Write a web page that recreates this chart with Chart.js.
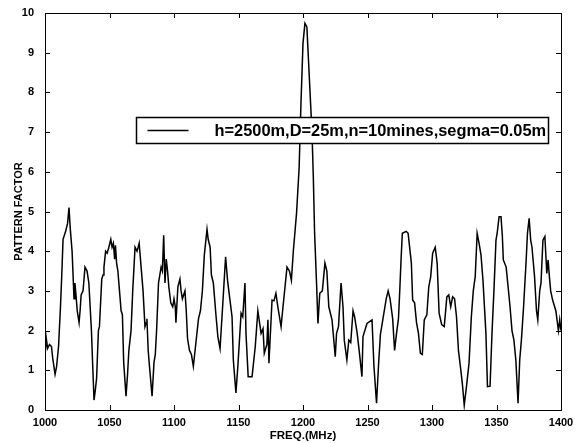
<!DOCTYPE html>
<html>
<head>
<meta charset="utf-8">
<script src="https://cdn.jsdelivr.net/npm/chart.js@4/dist/chart.umd.min.js"></script>
<style>
  html, body { margin: 0; padding: 0; background: #fff; }
  #wrap { width: 584px; height: 443px; position: relative; }
</style>
</head>
<body>
<div id="wrap"><canvas id="pf"></canvas></div>
<script>
// frequency (MHz) and pattern factor
var freq = [
  1000, 1001, 1002, 1003.5, 1005, 1006, 1007.8, 1009, 1010.5, 1012, 1013, 1014, 1016, 1017.5, 1018.6, 1019.5,
  1021, 1022.5, 1023.2, 1024, 1025, 1026.4, 1027.2, 1028, 1029.5, 1031, 1032.6, 1034, 1035, 1036, 1037, 1038,
  1039, 1040, 1041.4, 1042.2, 1044, 1045, 1045.7, 1047, 1048.2, 1049.5, 1051, 1052, 1053, 1054, 1054.6, 1055.5,
  1056.5, 1058, 1059, 1060, 1061, 1062.8, 1064, 1065, 1066.7, 1068, 1069.8, 1071.3, 1072.2, 1073, 1074, 1076,
  1077.5, 1078.5, 1079, 1080, 1081, 1083, 1084.5, 1085.5, 1086.5, 1088, 1090, 1091, 1092, 1093, 1094, 1095,
  1096, 1097.5, 1099, 1100, 1101, 1101.5, 1103, 1104.6, 1105.5, 1106.5, 1108.5, 1109.5, 1110.5, 1112, 1113.5, 1115,
  1117, 1119, 1120.5, 1122, 1123.5, 1125.6, 1126.5, 1128, 1129, 1130.5, 1132.5, 1134, 1135.7, 1138, 1140, 1141.5,
  1142.5, 1145, 1146, 1148, 1149.5, 1152, 1153.3, 1155, 1155.8, 1157.5, 1160.5, 1163, 1165, 1167.5, 1169, 1170,
  1172, 1172.8, 1173.6, 1176, 1177.5, 1179, 1180.5, 1183, 1184.5, 1187.6, 1189.5, 1191, 1192.5, 1195, 1197, 1198.5,
  1200, 1201.5, 1203, 1204.5, 1207, 1208, 1209, 1210.5, 1211.6, 1213, 1215, 1217, 1218.5, 1220, 1222.5, 1225,
  1226, 1227.5, 1229.5, 1231, 1232, 1234, 1235.5, 1237, 1238.8, 1240, 1242, 1243.5, 1245.7, 1246.5, 1249.6, 1253.5,
  1255, 1257, 1258.5, 1260, 1262, 1264.5, 1266, 1267.5, 1269.5, 1271, 1272.5, 1274, 1275, 1276, 1277, 1280,
  1281.5, 1284, 1285, 1286.5, 1288, 1289.5, 1291, 1292.5, 1294, 1296, 1297.5, 1299, 1300.5, 1302.5, 1304, 1305.5,
  1307.5, 1309.5, 1311.5, 1313, 1314.5, 1316, 1317.5, 1319, 1320.5, 1322, 1323.5, 1325, 1327, 1328.7, 1330.5, 1332,
  1333.5, 1335, 1336.5, 1338, 1339.5, 1341.8, 1343, 1345, 1346.5, 1348, 1349.6, 1350.5, 1352, 1353.5, 1354.5, 1355.3,
  1357.5, 1359, 1360.5, 1362, 1363.5, 1365, 1366.7, 1368, 1369.3, 1371, 1373, 1374, 1375.3, 1376.5, 1377.5, 1379.5,
  1381, 1382, 1383.5, 1384.5, 1386, 1387.5, 1389, 1390, 1391, 1392, 1393.5, 1396, 1398, 1399, 1400
];
var pattern = [
  1.35, 1.8, 1.55, 1.65, 1.6, 1.3, 0.9, 1.1, 1.6, 2.6, 3.4, 4.3, 4.5, 4.7, 5.1, 4.6,
  4.0, 2.8, 3.2, 2.9, 2.5, 2.2, 2.5, 2.9, 3.0, 3.6, 3.5, 3.2, 2.6, 2.0, 1.1, 0.25,
  0.5, 0.8, 2.0, 2.1, 3.3, 3.4, 3.6, 4.0, 3.95, 4.1, 4.3, 4.1, 4.2, 3.8, 4.15, 3.7,
  3.5, 2.9, 2.5, 2.4, 1.2, 0.35, 0.9, 1.5, 2.0, 3.0, 4.1, 4.0, 4.1, 4.2, 3.8, 3.0,
  2.1, 2.2, 2.3, 1.5, 1.1, 0.35, 1.2, 1.4, 2.0, 3.2, 3.6, 3.5, 4.4, 3.2, 3.8, 3.5,
  3.1, 2.7, 2.6, 2.8, 2.6, 2.2, 3.1, 3.3, 3.0, 2.8, 3.0, 2.5, 1.8, 1.5, 1.4, 1.1,
  1.7, 2.3, 2.5, 3.0, 3.9, 4.55, 4.3, 4.1, 3.4, 3.2, 2.4, 1.85, 1.55, 2.77, 3.86, 3.27,
  3.0, 2.35, 1.26, 0.43, 1.1, 2.44, 2.35, 3.2, 1.93, 0.84, 0.84, 1.6, 2.5, 1.93, 2.05, 1.43,
  1.65, 2.27, 1.18, 2.77, 2.75, 2.94, 2.6, 2.1, 2.6, 3.6, 3.5, 3.27, 4.0, 4.96, 6.1, 7.8,
  9.24, 9.74, 9.65, 8.65, 6.97, 5.87, 4.45, 3.2, 2.18, 2.94, 3.0, 3.7, 3.5, 2.6, 2.27, 1.34,
  1.93, 2.1, 3.2, 2.6, 1.76, 1.26, 1.76, 1.7, 2.5, 2.35, 1.93, 1.51, 0.84, 1.85, 2.18, 2.27,
  1.1, 0.17, 1.1, 1.9, 2.3, 2.8, 3.0, 2.8, 2.3, 1.5, 1.93, 2.3, 3.0, 3.78, 4.45, 4.5,
  4.45, 3.7, 2.77, 2.7, 2.2, 1.93, 1.43, 1.4, 2.27, 2.4, 3.1, 3.36, 3.95, 4.1, 3.7, 2.44,
  2.15, 2.1, 2.85, 2.9, 2.6, 2.85, 2.8, 2.35, 1.5, 1.1, 0.67, 0.12, 0.67, 1.18, 2.35, 3.0,
  3.36, 4.45, 4.2, 3.9, 3.27, 1.93, 0.59, 0.6, 1.93, 3.0, 4.28, 4.45, 4.87, 4.87, 4.4, 3.78,
  3.6, 3.1, 2.6, 2.0, 1.76, 1.26, 0.17, 1.26, 1.76, 2.6, 3.78, 4.45, 4.83, 4.28, 4.1, 3.36,
  2.5, 2.27, 3.0, 3.2, 4.28, 4.37, 3.44, 3.78, 3.36, 3.0, 2.77, 2.5, 2.0, 2.27, 2.0
];
var xTicks = [1000, 1050, 1100, 1150, 1200, 1250, 1300, 1350, 1400];
var yTicks = [0, 1, 2, 3, 4, 5, 6, 7, 8, 9, 10];
var seriesLabel = 'h=2500m,D=25m,n=10mines,segma=0.05m';

var points = freq.map(function (f, i) { return { x: f, y: pattern[i] }; });
var tickFont = { family: 'Liberation Sans, Arial, sans-serif', size: 11, weight: 'bold' };

// box round the plot area, inward ticks on all four sides, legend box inside
var matlabFrame = {
  id: 'matlabFrame',
  afterDraw: function (chart) {
    var ctx = chart.ctx, a = chart.chartArea;
    var xs = chart.scales.x, ys = chart.scales.y;
    ctx.save();
    ctx.strokeStyle = '#000';
    ctx.lineWidth = 1;
    ctx.strokeRect(a.left + 0.5, a.top + 0.5, a.right - a.left, a.bottom - a.top);
    ctx.beginPath();
    xTicks.forEach(function (v) {
      var px = Math.round(xs.getPixelForValue(v)) + 0.5;
      ctx.moveTo(px, a.bottom); ctx.lineTo(px, a.bottom - 5);
      ctx.moveTo(px, a.top); ctx.lineTo(px, a.top + 5);
    });
    yTicks.forEach(function (v) {
      var py = Math.round(ys.getPixelForValue(v)) + 0.5;
      ctx.moveTo(a.left, py); ctx.lineTo(a.left + 5, py);
      ctx.moveTo(a.right, py); ctx.lineTo(a.right - 5, py);
    });
    ctx.stroke();

    // legend
    var bx = 136.5, by = 117.5, bw = 412, bh = 26;
    ctx.fillStyle = '#fff';
    ctx.fillRect(bx, by, bw, bh);
    ctx.lineWidth = 1.5;
    ctx.strokeRect(bx, by, bw, bh);
    ctx.beginPath();
    ctx.lineWidth = 1.5;
    ctx.moveTo(bx + 11, by + 13); ctx.lineTo(bx + 52, by + 13);
    ctx.stroke();
    ctx.fillStyle = '#000';
    ctx.font = 'bold 16.4px "Liberation Sans", Arial, sans-serif';
    ctx.textBaseline = 'middle';
    ctx.textAlign = 'left';
    ctx.fillText(seriesLabel, bx + 78, by + 14);
    ctx.restore();
  }
};

new Chart(document.getElementById('pf'), {
  type: 'line',
  data: {
    datasets: [{
      label: seriesLabel,
      data: points,
      borderColor: '#000',
      borderWidth: 1.5,
      pointRadius: 0,
      tension: 0,
      fill: false
    }]
  },
  options: {
    responsive: true,
    maintainAspectRatio: false,
    animation: false,
    layout: { padding: { top: 13, right: 23, left: 0, bottom: 0 } },
    plugins: { legend: { display: false }, tooltip: { enabled: false } },
    scales: {
      x: {
        type: 'linear',
        min: 1000, max: 1400,
        afterBuildTicks: function (s) { s.ticks = xTicks.map(function (v) { return { value: v }; }); },
        afterFit: function (s) { s.height = 33; },
        grid: { display: false },
        border: { display: false },
        ticks: { color: '#000', font: tickFont, padding: -2, maxRotation: 0, callback: function (v) { return String(v); } },
        title: { display: true, text: 'FREQ.(MHz)', color: '#000', font: { family: 'Liberation Sans, Arial, sans-serif', size: 11.5, weight: 'bold' }, padding: { top: -2, bottom: 0 } }
      },
      y: {
        min: 0, max: 10,
        afterBuildTicks: function (s) { s.ticks = yTicks.map(function (v) { return { value: v }; }); },
        afterFit: function (s) { s.width = 45; },
        grid: { display: false },
        border: { display: false },
        ticks: { color: '#000', font: tickFont, padding: 3 },
        title: { display: true, text: 'PATTERN FACTOR', color: '#000', font: { family: 'Liberation Sans, Arial, sans-serif', size: 11, weight: 'bold' }, padding: { top: 12, bottom: 0 } }
      }
    }
  },
  plugins: [matlabFrame]
});
</script>
</body>
</html>
